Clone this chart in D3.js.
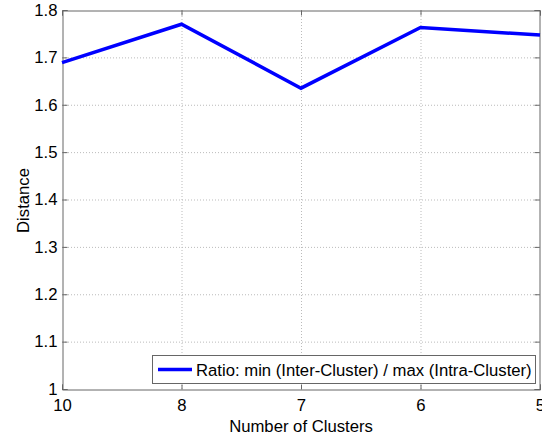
<!DOCTYPE html>
<html>
<head>
<meta charset="utf-8">
<script src="https://cdn.jsdelivr.net/npm/d3@7"></script>
<style>
  html, body { margin: 0; padding: 0; background: #fff; }
  svg { display: block; }
  text { font-family: "Liberation Sans", Arial, Helvetica, sans-serif; fill: #000; }
</style>
</head>
<body>
<svg id="chart" width="542" height="436"></svg>
<script>
// Cluster counts along the x axis (descending, evenly spaced)
const clusters = ["10", "8", "7", "6", "5"];
// Ratio of min inter-cluster distance to max intra-cluster distance
const ratio = [1.689, 1.770, 1.635, 1.763, 1.747];
// Y tick values
const yTicks = [1, 1.1, 1.2, 1.3, 1.4, 1.5, 1.6, 1.7, 1.8];
const legendLabel = "Ratio: min (Inter-Cluster) / max (Intra-Cluster)";

(function () {
  const svg = d3.select("#chart");
  const plotL = 62, plotR = 540, plotT = 10, plotB = 389;
  const fs = 16.7;

  const x = d3.scalePoint().domain(clusters).range([plotL, plotR]);
  const y = d3.scaleLinear().domain([1, 1.8]).range([plotB, plotT]);

  const axisColor = "#666";
  const gridColor = "#bbb";

  // Grid lines
  const grid = svg.append("g");
  grid.selectAll(".gy").data(yTicks.slice(1, -1)).enter().append("line")
    .attr("x1", plotL).attr("x2", plotR)
    .attr("y1", d => y(d) + 0.5).attr("y2", d => y(d) + 0.5)
    .attr("stroke", gridColor).attr("stroke-width", 1).attr("stroke-dasharray", "1,2");
  grid.selectAll(".gx").data(clusters.slice(1, -1)).enter().append("line")
    .attr("x1", d => x(d) + 0.5).attr("x2", d => x(d) + 0.5)
    .attr("y1", plotT).attr("y2", plotB)
    .attr("stroke", gridColor).attr("stroke-width", 1).attr("stroke-dasharray", "1,2");

  // Axes (ticks drawn inward, mirrored on top and right)
  const tickLen = 5;
  const gL = svg.append("g").attr("transform", `translate(${plotL + 0.5},0)`)
    .call(d3.axisLeft(y).tickValues(yTicks).tickSize(-tickLen).tickPadding(5)
      .tickFormat(d => String(+d.toFixed(1))));
  const gR = svg.append("g").attr("transform", `translate(${plotR - 0.5},0)`)
    .call(d3.axisRight(y).tickValues(yTicks).tickSize(-tickLen).tickFormat(""));
  const gB = svg.append("g").attr("transform", `translate(0,${plotB + 0.5})`)
    .call(d3.axisBottom(x).tickSize(-tickLen).tickPadding(10));
  const gT = svg.append("g").attr("transform", `translate(0,${plotT + 0.5})`)
    .call(d3.axisTop(x).tickSize(-tickLen).tickFormat(""));

  [gL, gR, gB, gT].forEach(g => {
    g.select(".domain").attr("stroke", axisColor);
    g.selectAll(".tick line").attr("stroke", axisColor);
    g.selectAll(".tick text").attr("font-size", fs).attr("fill", "#000")
      .attr("font-family", "'Liberation Sans', Arial, sans-serif");
  });

  // Data line
  const line = d3.line().x((d, i) => x(clusters[i])).y(d => y(d));
  svg.append("path").datum(ratio)
    .attr("d", line)
    .attr("fill", "none").attr("stroke", "#0000ff").attr("stroke-width", 3.5)
    .attr("stroke-linejoin", "miter");

  // Axis titles
  svg.append("text").attr("x", (plotL + plotR) / 2).attr("y", 432)
    .attr("text-anchor", "middle").attr("font-size", fs).text("Number of Clusters");
  svg.append("text").attr("transform", `translate(28.5,${(plotT + plotB) / 2 + 1}) rotate(-90)`)
    .attr("text-anchor", "middle").attr("font-size", fs).text("Distance");

  // Legend
  const lg = svg.append("g");
  lg.append("rect").attr("x", 152.5).attr("y", 355.5).attr("width", 383).attr("height", 28)
    .attr("fill", "#fff").attr("stroke", axisColor).attr("stroke-width", 1);
  lg.append("line").attr("x1", 158).attr("x2", 192).attr("y1", 369.5).attr("y2", 369.5)
    .attr("stroke", "#0000ff").attr("stroke-width", 3.5);
  lg.append("text").attr("x", 196).attr("y", 376).attr("font-size", fs).text(legendLabel);
})();
</script>
</body>
</html>
